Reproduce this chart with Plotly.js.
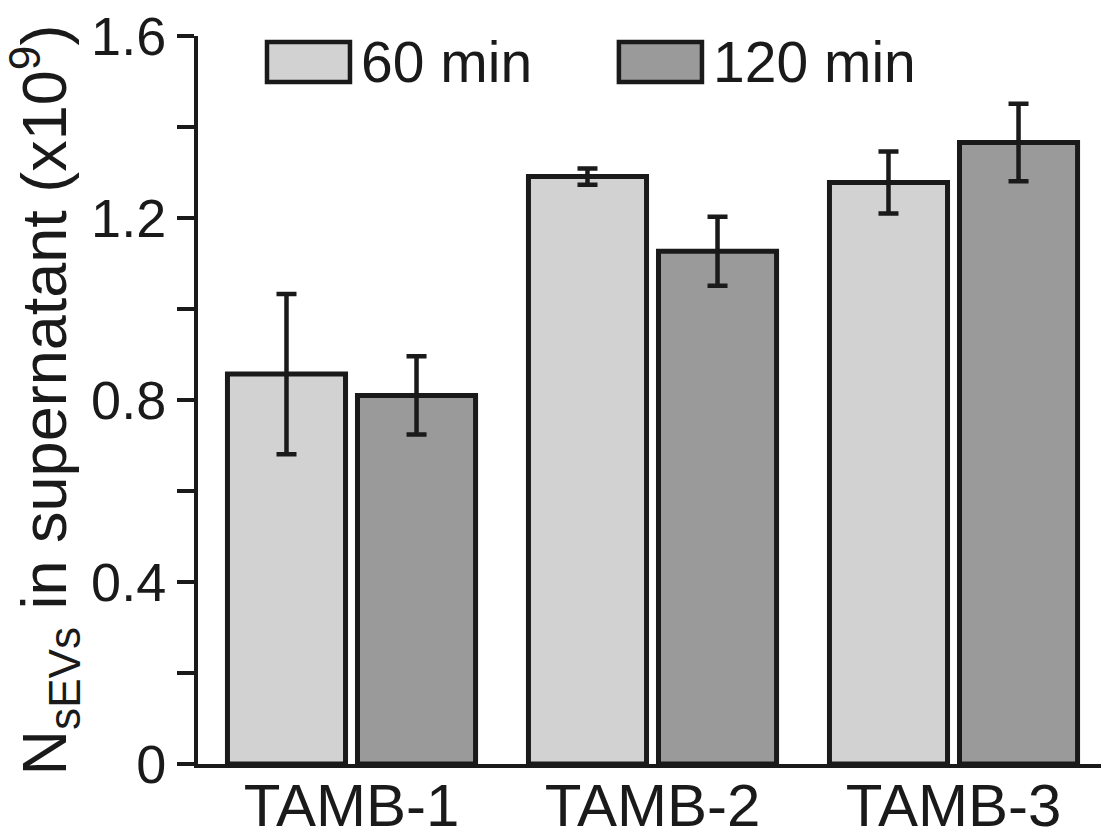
<!DOCTYPE html>
<html>
<head>
<meta charset="utf-8">
<script src="https://cdn.plot.ly/plotly-3.0.1.min.js"></script>
<style>html,body{margin:0;padding:0;background:#fff;}#chart{width:1101px;height:839px;}</style>
</head>
<body>
<div id="chart"></div>
<script>
// Data
const categories = ["TAMB-1", "TAMB-2", "TAMB-3"];
const seriesNames = ["60 min", "120 min"];
const values60 = [0.857, 1.291, 1.278];
const errors60 = [0.176, 0.018, 0.068];
const values120 = [0.810, 1.127, 1.366];
const errors120 = [0.086, 0.076, 0.085];
const yTickVals = [0, 0.4, 0.8, 1.2, 1.6];
const yTickText = ["0", "0.4", "0.8", "1.2", "1.6"];
const yMinorVals = [0.2, 0.6, 1.0, 1.4];

const ink = "#1a1a1a";
const light = "#d2d2d2";
const dark = "#9a9a9a";
const font = "Liberation Sans, Arial, sans-serif";

function barTrace(name, vals, errs, color) {
  return {
    type: "bar", name: name, x: categories, y: vals,
    marker: {color: color, line: {color: ink, width: 5}},
    error_y: {type: "data", array: errs, visible: true, color: ink, thickness: 4.5, width: 10},
    hoverinfo: "skip"
  };
}

const data = [
  barTrace(seriesNames[0], values60, errors60, light),
  barTrace(seriesNames[1], values120, errors120, dark)
];

const layout = {
  width: 1101, height: 839,
  margin: {l: 198, r: 0, t: 36, b: 75},
  paper_bgcolor: "#fff", plot_bgcolor: "#fff",
  font: {family: font, color: ink},
  showlegend: false,
  barmode: "group", bargap: 0.136, bargroupgap: 0.092,
  xaxis: {
    type: "category", range: [-0.51, 2.49],
    showline: true, linecolor: ink, linewidth: 4,
    ticks: "", showgrid: false, zeroline: false,
    ticklabelstandoff: -14,
    tickfont: {size: 60, family: font, color: ink}
  },
  yaxis: {
    range: [0, 1.6], tickmode: "array", tickvals: yTickVals, ticktext: yTickText,
    showline: true, linecolor: ink, linewidth: 4,
    ticks: "outside", ticklen: 17, tickwidth: 4, tickcolor: ink,
    minor: {tickvals: yMinorVals, ticks: "outside", ticklen: 17, tickwidth: 4, tickcolor: ink, showgrid: false},
    showgrid: false, zeroline: false,
    tickfont: {size: 54, family: font, color: ink},
    title: {text: "N<sub>sEVs</sub> in supernatant (x10<sup>9</sup>)", font: {size: 63, family: font, color: ink}}
  },
  shapes: [
    {type: "rect", xref: "paper", yref: "paper", x0: 0.0764, x1: 0.1683, y0: 0.9368, y1: 0.9917, fillcolor: light, line: {color: ink, width: 4.5}},
    {type: "rect", xref: "paper", yref: "paper", x0: 0.4661, x1: 0.5581, y0: 0.9368, y1: 0.9917, fillcolor: dark, line: {color: ink, width: 4.5}}
  ],
  annotations: [
    {xref: "paper", yref: "paper", x: 0.1783, y: 0.964, xanchor: "left", yanchor: "middle", text: seriesNames[0], showarrow: false, font: {size: 57, family: font, color: ink}},
    {xref: "paper", yref: "paper", x: 0.5681, y: 0.964, xanchor: "left", yanchor: "middle", text: seriesNames[1], showarrow: false, font: {size: 57, family: font, color: ink}}
  ]
};

Plotly.newPlot("chart", data, layout, {displayModeBar: false, staticPlot: true});
</script>
</body>
</html>
